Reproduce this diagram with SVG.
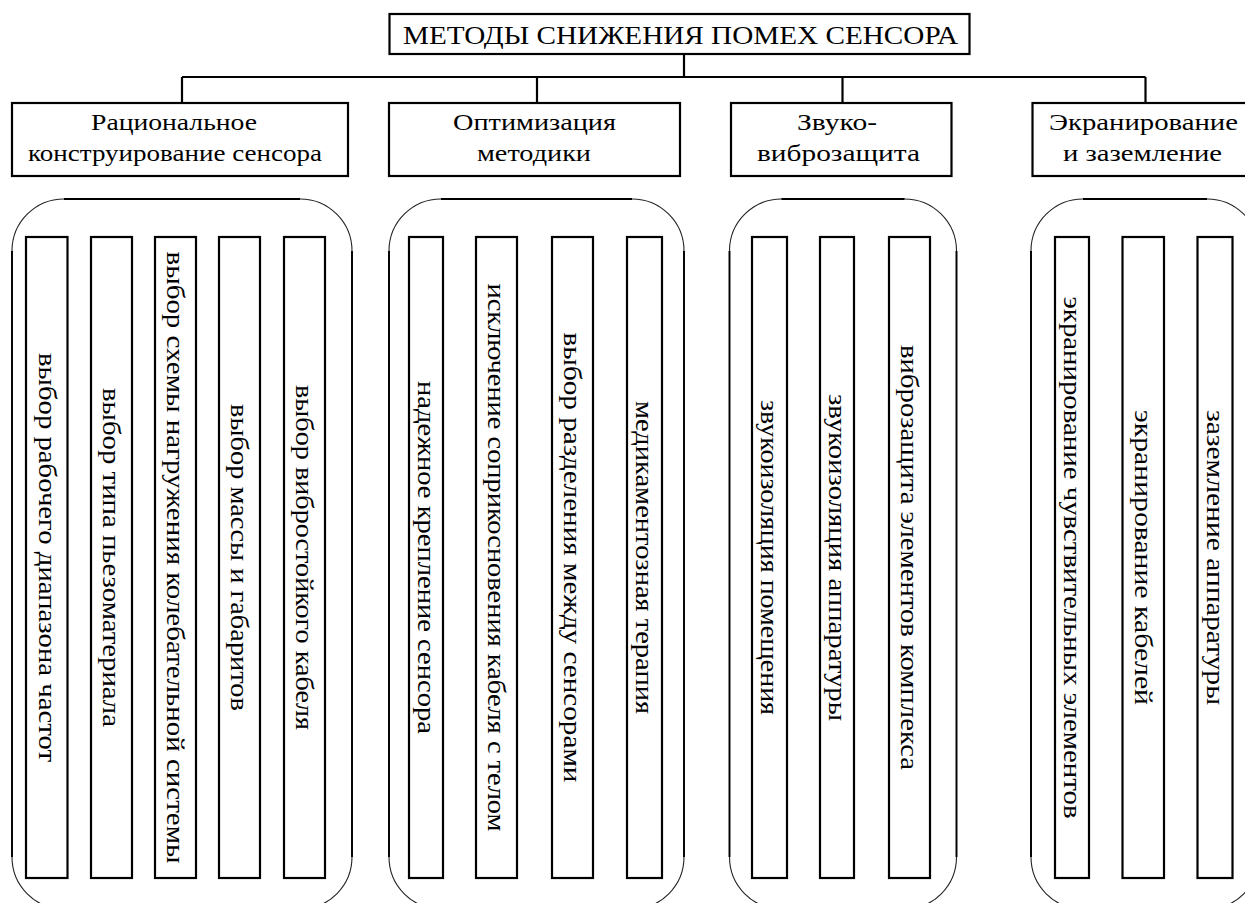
<svg xmlns="http://www.w3.org/2000/svg" width="1245" height="903" viewBox="0 0 1245 903">
<style>
text{font-family:"Liberation Serif","Times New Roman",Tinos,serif;fill:#000}
.t{font-size:26px}
.h{font-size:24px}
.v{font-size:25px;text-anchor:middle;dominant-baseline:central}
.box{fill:#fff;stroke:#000;stroke-width:2.2}
.cont{fill:none;stroke:#222;stroke-width:1.1}
.side{fill:none;stroke:#000;stroke-width:1.9}
.ln{fill:none;stroke:#000;stroke-width:2.2}
</style>
<rect width="1245" height="903" fill="#fff"/>
<g id="connectors">
<path class="ln" d="M684,54 V77 M182,77 H1145.5 M182,77 V103 M537,77 V103 M842.5,77 V103 M1145.5,77 V103"/>
</g>
<g id="title">
<rect class="box" x="389.5" y="14" width="580" height="40"/>
<text class="t" x="403" y="44" textLength="555" lengthAdjust="spacingAndGlyphs">МЕТОДЫ СНИЖЕНИЯ ПОМЕХ СЕНСОРА</text>
</g>
<g id="cat1">
<rect class="box" x="12" y="103" width="336" height="73"/>
<text class="h" x="91" y="130" textLength="166" lengthAdjust="spacingAndGlyphs">Рациональное</text>
<text class="h" x="28" y="161" textLength="294" lengthAdjust="spacingAndGlyphs">конструирование сенсора</text>
</g>
<g id="cat2">
<rect class="box" x="389" y="103" width="291" height="73"/>
<text class="h" x="453" y="130" textLength="163" lengthAdjust="spacingAndGlyphs">Оптимизация</text>
<text class="h" x="477" y="161" textLength="114" lengthAdjust="spacingAndGlyphs">методики</text>
</g>
<g id="cat3">
<rect class="box" x="731" y="103" width="220.5" height="73"/>
<text class="h" x="797" y="130" textLength="80" lengthAdjust="spacingAndGlyphs">Звуко-</text>
<text class="h" x="757" y="161" textLength="163" lengthAdjust="spacingAndGlyphs">виброзащита</text>
</g>
<g id="cat4">
<rect class="box" x="1032.5" y="103" width="226" height="73"/>
<text class="h" x="1049" y="130" textLength="189" lengthAdjust="spacingAndGlyphs">Экранирование</text>
<text class="h" x="1063" y="161" textLength="159" lengthAdjust="spacingAndGlyphs">и заземление</text>
</g>
<g id="group1">
<rect class="cont" x="12" y="199" width="340" height="710" rx="52" ry="52"/>
<path class="side" d="M64,199 H300 M12,251 V857 M352,251 V857"/>
<rect class="box" x="26" y="237" width="41.5" height="641"/>
<rect class="box" x="91" y="237" width="41" height="641"/>
<rect class="box" x="155" y="237" width="41" height="641"/>
<rect class="box" x="219" y="237" width="41" height="641"/>
<rect class="box" x="284" y="237" width="41" height="641"/>
<text class="v" transform="translate(47,557.5) rotate(90)" textLength="409" lengthAdjust="spacingAndGlyphs">выбор рабочего диапазона частот</text>
<text class="v" transform="translate(111.5,557.5) rotate(90)" textLength="339" lengthAdjust="spacingAndGlyphs">выбор типа пьезоматериала</text>
<text class="v" transform="translate(175.5,557.5) rotate(90)" textLength="612" lengthAdjust="spacingAndGlyphs">выбор схемы нагружения колебательной системы</text>
<text class="v" transform="translate(239.5,557.5) rotate(90)" textLength="307" lengthAdjust="spacingAndGlyphs">выбор массы и габаритов</text>
<text class="v" transform="translate(304.5,557.5) rotate(90)" textLength="345" lengthAdjust="spacingAndGlyphs">выбор вибростойкого кабеля</text>
</g>
<g id="group2">
<rect class="cont" x="389" y="199" width="295" height="710" rx="52" ry="52"/>
<path class="side" d="M441,199 H632 M389,251 V857 M684,251 V857"/>
<rect class="box" x="409" y="237" width="34" height="641"/>
<rect class="box" x="476" y="237" width="41" height="641"/>
<rect class="box" x="552" y="237" width="41" height="641"/>
<rect class="box" x="627" y="237" width="35" height="641"/>
<text class="v" transform="translate(426,557.5) rotate(90)" textLength="353" lengthAdjust="spacingAndGlyphs">надежное крепление сенсора</text>
<text class="v" transform="translate(496.5,557.5) rotate(90)" textLength="548" lengthAdjust="spacingAndGlyphs">исключение соприкосновения кабеля с телом</text>
<text class="v" transform="translate(572.5,557.5) rotate(90)" textLength="450" lengthAdjust="spacingAndGlyphs">выбор разделения между сенсорами</text>
<text class="v" transform="translate(644.5,557.5) rotate(90)" textLength="313" lengthAdjust="spacingAndGlyphs">медикаментозная терапия</text>
</g>
<g id="group3">
<rect class="cont" x="729.5" y="199" width="227" height="710" rx="52" ry="52"/>
<path class="side" d="M781.5,199 H904.5 M729.5,251 V857 M956.5,251 V857"/>
<rect class="box" x="752" y="237" width="35" height="641"/>
<rect class="box" x="820" y="237" width="34" height="641"/>
<rect class="box" x="889" y="237" width="41" height="641"/>
<text class="v" transform="translate(769.5,557.5) rotate(90)" textLength="315" lengthAdjust="spacingAndGlyphs">звукоизоляция помещения</text>
<text class="v" transform="translate(837,557.5) rotate(90)" textLength="327" lengthAdjust="spacingAndGlyphs">звукоизоляция аппаратуры</text>
<text class="v" transform="translate(909.5,557.5) rotate(90)" textLength="425" lengthAdjust="spacingAndGlyphs">виброзащита элементов комплекса</text>
</g>
<g id="group4">
<rect class="cont" x="1031" y="199" width="228" height="710" rx="52" ry="52"/>
<path class="side" d="M1083,199 H1207 M1031,251 V857 M1259,251 V857"/>
<rect class="box" x="1055" y="237" width="34" height="641"/>
<rect class="box" x="1122.5" y="237" width="41.5" height="641"/>
<rect class="box" x="1197.5" y="237" width="35" height="641"/>
<text class="v" transform="translate(1072,557.5) rotate(90)" textLength="522" lengthAdjust="spacingAndGlyphs">экранирование чувствительных элементов</text>
<text class="v" transform="translate(1143,557.5) rotate(90)" textLength="295" lengthAdjust="spacingAndGlyphs">экранирование кабелей</text>
<text class="v" transform="translate(1215,557.5) rotate(90)" textLength="295" lengthAdjust="spacingAndGlyphs">заземление аппаратуры</text>
</g>
</svg>
